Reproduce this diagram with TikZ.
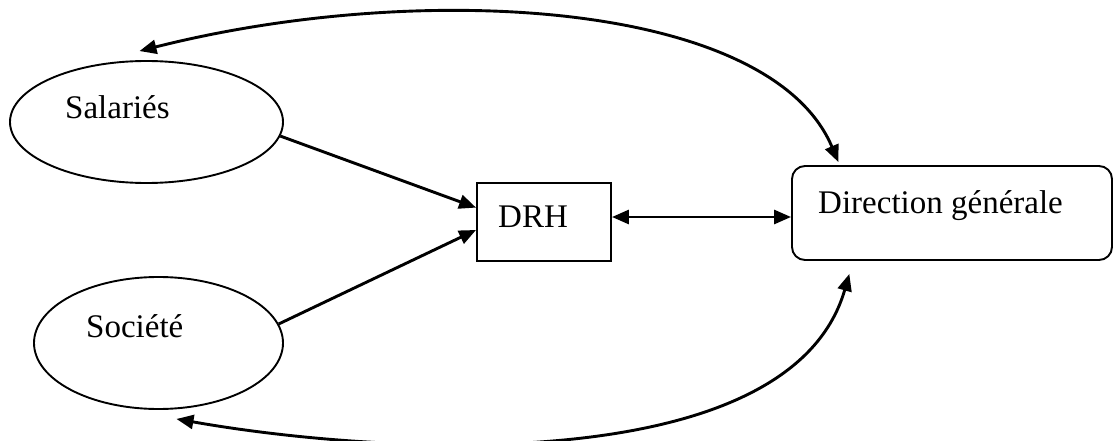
\documentclass[tikz,border=0pt]{standalone}
\usepackage{fontspec}
\setmainfont{Liberation Serif}
\usetikzlibrary{arrows.meta,shapes.geometric,calc}
\begin{document}
\begin{tikzpicture}[x=1pt,y=-1pt,
  shapeline/.style={draw=black,line width=1.9pt},
  ellnode/.style={shapeline,ellipse,inner sep=0pt},
  boxnode/.style={shapeline,rectangle,inner sep=0pt},
  lbl/.style={anchor=base west,inner sep=0pt,font=\fontsize{33}{38}\selectfont},
  tip/.tip={Triangle[length=17pt,width=14pt]},
  conn/.style={line width=2.9pt,-tip},
  dconn/.style={line width=2.9pt,tip-tip}
]
\useasboundingbox (0,0) rectangle (1114,441);
\fill[white] (0,0) rectangle (1114,441);

\node[ellnode,minimum width=273pt,minimum height=122pt] (sal) at (146.5,122) {};
\node[ellnode,minimum width=249pt,minimum height=132pt] (soc) at (158.5,343) {};
\node[boxnode,minimum width=134pt,minimum height=78pt] (drh) at (544,222) {};
\node[boxnode,rounded corners=13pt,minimum width=320pt,minimum height=94pt] (dg) at (952,213) {};

\node[lbl] (tsal) at (65,119) {Salariés};
\node[lbl] (tsoc) at (86,337) {Société};
\node[lbl] (tdrh) at (498,227) {DRH};
\node[lbl] (tdg) at (818,213) {Direction générale};

\coordinate (topend) at ([shift={(-7pt,9pt)}]sal.north);
\coordinate (botend) at ([shift={(18pt,-9pt)}]soc.south);
\coordinate (dgtop) at ([yshift=3pt]$(dg.north west)!0.147!(dg.north east)$);
\coordinate (dgbot) at ([yshift=-13pt]$(dg.south west)!0.181!(dg.south east)$);

\draw[conn] (sal.-6) -- ($(drh.north west)!0.32!(drh.south west)$);
\draw[conn] (soc.9) -- ($(drh.north west)!0.6!(drh.south west)$);
\draw[dconn] ([yshift=5pt]drh.east) -- ([yshift=5pt]drh.east -| dg.west);
\draw[dconn] (dgtop) .. controls (770,0) and (420,-20) .. (topend);
\draw[dconn] (dgbot) .. controls (790,480) and (380,455) .. (botend);
\end{tikzpicture}
\end{document}
